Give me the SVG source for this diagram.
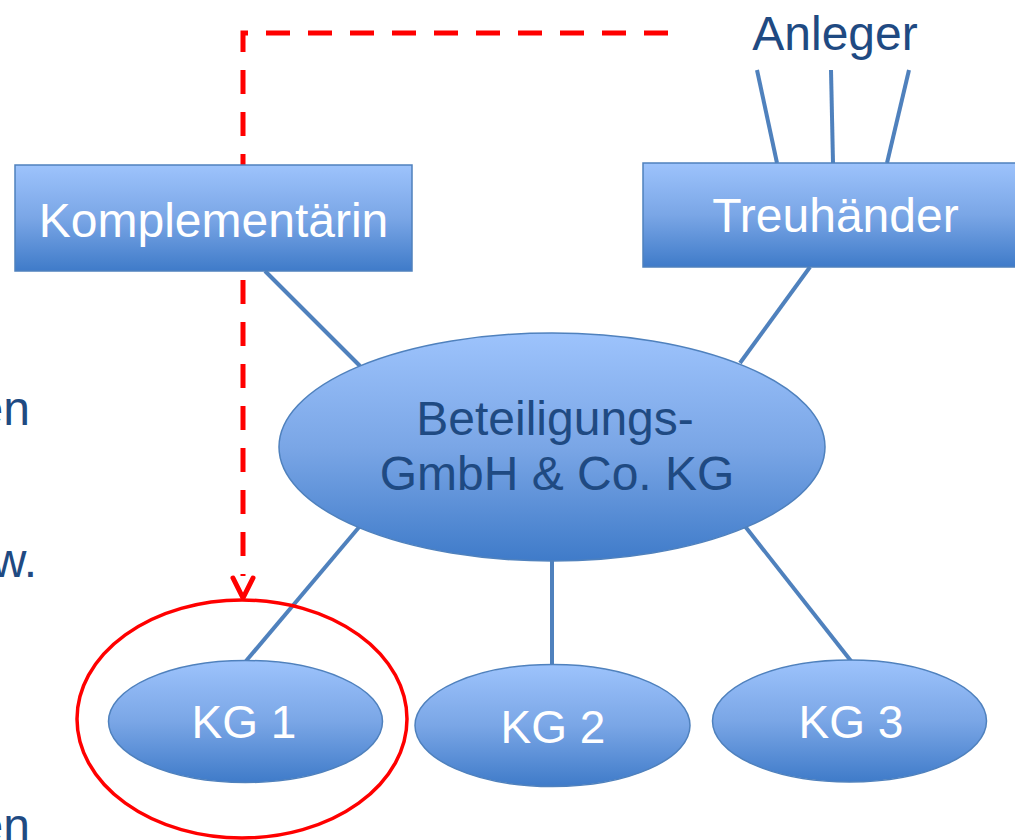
<svg xmlns="http://www.w3.org/2000/svg" width="1015" height="840" viewBox="0 0 1015 840">
<defs>
<linearGradient id="g" x1="0" y1="0" x2="0" y2="1">
<stop offset="0" stop-color="#9dc3fc"/>
<stop offset="0.5" stop-color="#7aa6e6"/>
<stop offset="1" stop-color="#3f7bc9"/>
</linearGradient>
</defs>
<style>
.node{fill:url(#g);stroke:#4f81bd;stroke-width:1.5}
.wt{font-family:"Liberation Sans",Arial,sans-serif;fill:#ffffff;text-anchor:middle}
.dt{font-family:"Liberation Sans",Arial,sans-serif;fill:#1f4a82;text-anchor:middle}
.lt{font-family:"Liberation Sans",Arial,sans-serif;fill:#1f4a82;text-anchor:end;font-size:48px}
.conn{stroke:#4f81bd;stroke-width:4;fill:none}
.red{stroke:#ff0000;fill:none}
</style>
<rect width="1015" height="840" fill="#ffffff"/>
<g id="left-fragments">
<text class="lt" x="30" y="425">en</text>
<text class="lt" x="37" y="577">w.</text>
<text class="lt" x="30" y="842">en</text>
</g>
<g id="connectors">
<line class="conn" x1="757" y1="70" x2="777" y2="163"/>
<line class="conn" x1="831" y1="70" x2="833" y2="163"/>
<line class="conn" x1="909" y1="70" x2="887" y2="163"/>
<line class="conn" x1="265" y1="271" x2="360" y2="366"/>
<line class="conn" x1="810" y1="267" x2="740" y2="363"/>
<line class="conn" x1="360" y1="526" x2="246" y2="661"/>
<line class="conn" x1="552" y1="560" x2="552" y2="665"/>
<line class="conn" x1="744" y1="525" x2="851" y2="661"/>
<path class="red" stroke-width="5" stroke-dasharray="24 18" d="M668 33 H243 V576"/>
<path class="red" stroke-width="5" stroke-linecap="round" stroke-linejoin="round" d="M233 578 L243 598 L253 578"/>
</g>
<g id="komplementaerin">
<rect class="node" x="15" y="165" width="397" height="106"/>
<text class="wt" x="213.5" y="237" font-size="48">Komplementärin</text>
</g>
<g id="treuhaender">
<rect class="node" x="643" y="163" width="390" height="104"/>
<text class="wt" x="835.5" y="232" font-size="48">Treuhänder</text>
</g>
<g id="anleger">
<text class="dt" x="835" y="50" font-size="48">Anleger</text>
</g>
<g id="beteiligung">
<ellipse class="node" cx="552" cy="447" rx="273" ry="114"/>
<text class="dt" x="555" y="435" font-size="48">Beteiligungs-</text>
<text class="dt" x="557" y="490" font-size="48">GmbH &amp; Co. KG</text>
</g>
<g id="kg1">
<ellipse class="node" cx="245.5" cy="721.5" rx="137" ry="61"/>
<text class="wt" x="244" y="738" font-size="46">KG 1</text>
</g>
<g id="kg2">
<ellipse class="node" cx="552.5" cy="725.5" rx="137.5" ry="61"/>
<text class="wt" x="553" y="743" font-size="46">KG 2</text>
</g>
<g id="kg3">
<ellipse class="node" cx="849.5" cy="721" rx="137" ry="61"/>
<text class="wt" x="851" y="738" font-size="46">KG 3</text>
</g>
<g id="highlight">
<ellipse class="red" stroke-width="3.5" cx="242" cy="719" rx="165" ry="119"/>
</g>
</svg>
